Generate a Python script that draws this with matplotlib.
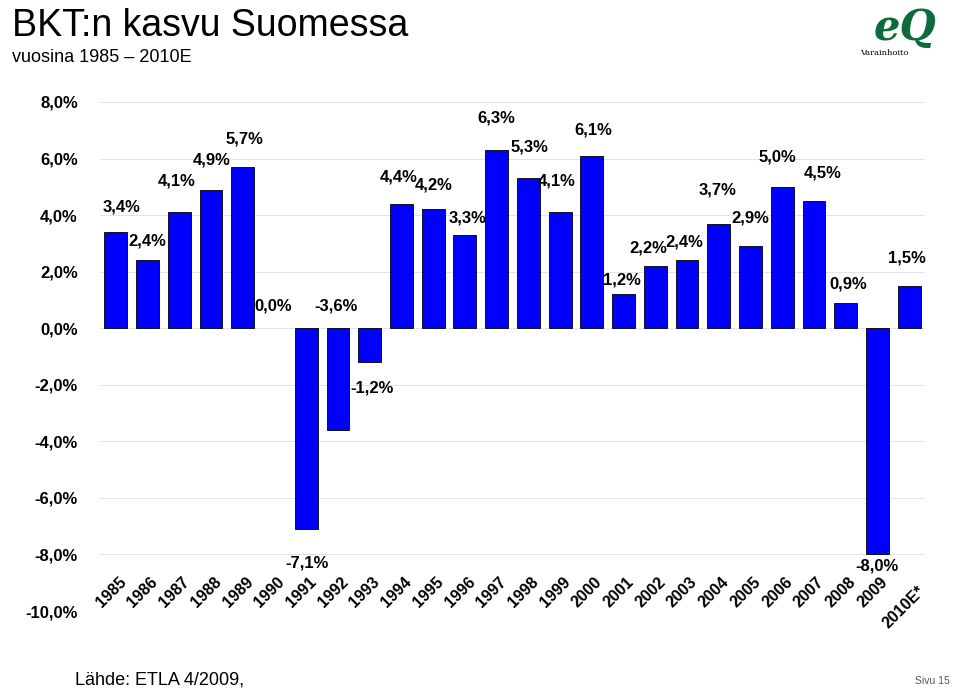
import matplotlib
matplotlib.use('Agg')
import matplotlib.pyplot as plt

# ── Data ──────────────────────────────────────────────────────────────────────
years = ['1985', '1986', '1987', '1988', '1989', '1990', '1991', '1992', '1993',
         '1994', '1995', '1996', '1997', '1998', '1999', '2000', '2001', '2002',
         '2003', '2004', '2005', '2006', '2007', '2008', '2009', '2010E*']
growth = [3.4, 2.4, 4.1, 4.9, 5.7, 0.0, -7.1, -3.6, -1.2, 4.4, 4.2, 3.3, 6.3,
          5.3, 4.1, 6.1, 1.2, 2.2, 2.4, 3.7, 2.9, 5.0, 4.5, 0.9, -8.0, 1.5]
yticks = [8, 6, 4, 2, 0, -2, -4, -6, -8, -10]

# label placement (as in the original slide)
label_y = [4.3, 3.1, 5.2, 5.95, 6.7, 0.8, -8.3, 0.8, -2.1, 5.35, 5.05, 3.9, 7.45,
           6.4, 5.2, 7.0, 1.7, 2.85, 3.05, 4.9, 3.9, 6.05, 5.5, 1.55, -8.4, 2.5]
label_dx = [0.19, -0.02, -0.08, 0.02, 0.06, -0.05, 0.02, -0.07, 0.07, -0.08, 0.02,
            0.09, 0.0, 0.05, -0.1, 0.06, -0.05, -0.23, -0.07, -0.03, -0.02, -0.14,
            0.28, 0.07, -0.02, -0.07]

FONT = 'Liberation Sans'
fmt = lambda v: f'{v:.1f}%'.replace('.', ',')

fig = plt.figure(figsize=(9.6, 6.89), dpi=100)
ax = fig.add_axes([100/960, 1 - 611/689, 825/960, (611 - 102)/689])

x = list(range(len(years)))
edge_w = [0.6 if v != 0 else 0 for v in growth]
ax.bar(x, growth, width=0.72, color='#0000FF', edgecolor='black', linewidth=edge_w, zorder=3)

ax.set_xlim(-0.5, len(years) - 0.5)
ax.set_ylim(-10, 8)
ax.set_xticks([])
ax.set_yticks(yticks)
ax.set_yticklabels([fmt(t) for t in yticks], fontfamily=FONT, fontsize=12, fontweight='bold')
ax.yaxis.grid(True, color='#d8d8d8', linewidth=0.5, zorder=0)
ax.tick_params(axis='y', length=0, pad=16)
for s in ['top', 'right', 'bottom', 'left']:
    ax.spines[s].set_visible(False)

for i, (yr, v) in enumerate(zip(years, growth)):
    ax.text(i + label_dx[i], label_y[i], fmt(v), ha='center', va='center',
            fontfamily=FONT, fontsize=12, fontweight='bold', zorder=4)
    yy = -9.35 if yr != '2010E*' else -9.85
    ax.text(i - 0.15, yy, yr, rotation=45, ha='center', va='center',
            fontfamily=FONT, fontsize=11.5, fontweight='bold', zorder=4)

# ── Header / footer ───────────────────────────────────────────────────────────
fig.text(12/960, 1 - 26/689, 'BKT:n kasvu Suomessa', fontfamily=FONT, fontsize=27,
         va='center', ha='left')
fig.text(12/960, 1 - 58/689, 'vuosina 1985 – 2010E', fontfamily=FONT, fontsize=13,
         va='center', ha='left')
fig.text(905/960, 1 - 28/689, 'eQ', fontfamily='DejaVu Serif', fontsize=30,
         fontweight='bold', fontstyle='italic', color='#0E6B3A', ha='center', va='center')
fig.text(884/960, 1 - 53/689, 'Varainhoito', fontfamily='DejaVu Serif', fontsize=6,
         ha='center', va='center')
fig.text(75/960, 1 - 680/689, 'Lähde: ETLA 4/2009,', fontfamily=FONT, fontsize=13,
         ha='left', va='center')
fig.text(950/960, 1 - 681/689, 'Sivu 15', fontfamily=FONT, fontsize=7.5, color='#555555',
         ha='right', va='center')

fig.savefig('out.png', dpi=100)
